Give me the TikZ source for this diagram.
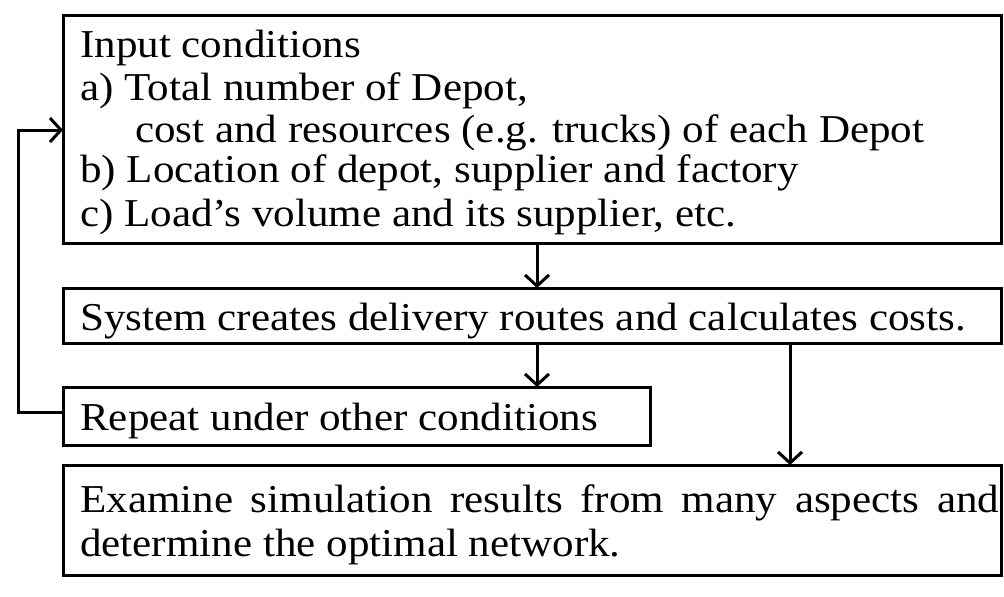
\documentclass[tikz,border=0pt]{standalone}
\usepackage{fontspec}
\setmainfont[FakeStretch=1.09]{Liberation Serif}
\usetikzlibrary{arrows.meta}
\begin{document}
\begin{tikzpicture}[x=1pt,y=-1pt,
  box/.style={draw,line width=3pt},
  txt/.style={anchor=base west,inner sep=0pt,font=\fontsize{39.5}{44}\selectfont},
  arr/.style={line width=3pt,-{Straight Barb[length=11pt,width=24pt,line width=3pt]}}]
\useasboundingbox (0,0) rectangle (1004,597);
\draw[box] (63,15) rectangle (1001,243);
\coordinate (b1s) at (537,243);
\coordinate (b1w) at (63,130);
\draw[box] (63,288) rectangle (1001,343);
\coordinate (b2n) at (537,288);
\coordinate (b2s) at (537,343);
\coordinate (b2s2) at (790,343);
\draw[box] (63,387) rectangle (650,445);
\coordinate (b3n) at (537,387);
\coordinate (b3w) at (63,412);
\draw[box] (63,465) rectangle (1001,575);
\coordinate (b4n) at (790,465);
\node[txt] (t1) at (80,57) {Input conditions};
\node[txt] (t2) at (80,100) {a) Total number of Depot,};
\node[txt] (t3) at (135,142) {cost and resources (e.g. trucks) of each Depot};
\node[txt] (t4) at (80,182) {b) Location of depot, supplier and factory};
\node[txt] (t5) at (80,226) {c) Load’s volume and its supplier, etc.};
\node[txt] (t6) at (80,330) {System creates delivery routes and calculates costs.};
\node[txt] (t7) at (80,430) {Repeat under other conditions};
\node[txt] (t8) at (80,512) {\makebox[919pt][s]{Examine simulation results from many aspects and}};
\node[txt] (t9) at (80,556) {determine the optimal network.};
\draw[arr] (b1s) -- (b2n);
\draw[arr] (b2s) -- (b3n);
\draw[arr] (b2s2) -- (b4n);
\draw[arr] (b3w) -- (18,412) -- (18,130) -- (b1w);
\end{tikzpicture}
\end{document}
